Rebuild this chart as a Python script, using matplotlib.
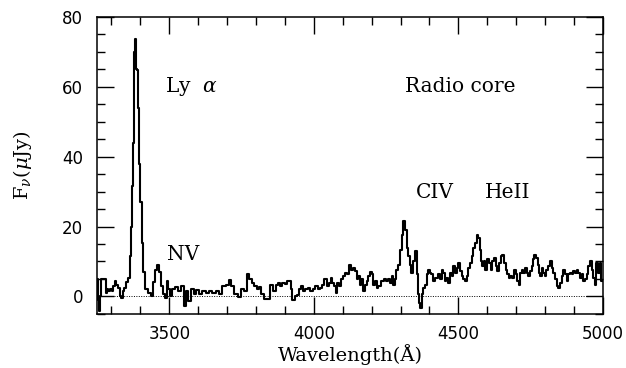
import numpy as np
import matplotlib.pyplot as plt
from matplotlib.ticker import MultipleLocator

# Spectrum (wavelength in Angstrom, flux in microJy)
wave = [3250, 3254, 3258, 3262, 3266, 3272, 3278, 3281, 3286, 3292, 3298, 3303,
        3308, 3314, 3320, 3325, 3331, 3337, 3342, 3348, 3355, 3361, 3367, 3369,
        3372, 3375, 3378, 3381, 3384, 3387, 3389, 3393, 3397, 3402, 3407, 3413,
        3421, 3432, 3439, 3447, 3455, 3462, 3470, 3476, 3482, 3488, 3493, 3499,
        3505, 3516, 3524, 3534, 3545, 3554, 3562, 3568, 3580, 3589, 3597, 3609,
        3620, 3632, 3643, 3655, 3666, 3678, 3689, 3701, 3709, 3718, 3730, 3744,
        3755, 3764, 3773, 3782, 3790, 3799, 3805, 3813, 3822, 3834, 3845, 3854,
        3862, 3874, 3880, 3888, 3895, 3903, 3911, 3918, 3922, 3929, 3938, 3945,
        3952, 3960, 3966, 3976, 3984, 3991, 4001, 4010, 4018, 4026, 4033, 4041,
        4047, 4055, 4061, 4067, 4072, 4079, 4084, 4091, 4099, 4105, 4111, 4118,
        4125, 4131, 4137, 4145, 4151, 4157, 4162, 4168, 4174, 4180, 4185, 4191,
        4197, 4203, 4208, 4214, 4220, 4226, 4237, 4246, 4254, 4260, 4266, 4272,
        4278, 4283, 4289, 4295, 4301, 4306, 4312, 4318, 4324, 4330, 4335, 4341,
        4347, 4353, 4358, 4362, 4366, 4371, 4376, 4381, 4387, 4393, 4399, 4404,
        4410, 4416, 4425, 4433, 4439, 4445, 4451, 4456, 4462, 4468, 4474, 4479,
        4485, 4491, 4497, 4503, 4508, 4514, 4520, 4526, 4531, 4537, 4543, 4549,
        4554, 4560, 4566, 4572, 4575, 4580, 4586, 4591, 4597, 4603, 4609, 4614,
        4620, 4626, 4632, 4637, 4643, 4649, 4655, 4661, 4666, 4672, 4678, 4683,
        4689, 4695, 4701, 4707, 4712, 4718, 4722, 4727, 4733, 4739, 4745, 4751,
        4756, 4762, 4765, 4771, 4777, 4782, 4786, 4791, 4797, 4802, 4808, 4814,
        4820, 4825, 4831, 4837, 4843, 4849, 4854, 4860, 4866, 4872, 4877, 4883,
        4889, 4895, 4900, 4906, 4912, 4918, 4924, 4929, 4935, 4941, 4947, 4952,
        4958, 4964, 4970, 4975, 4981, 4987, 4993, 4997]
flux = [5.0, -1.0, -4.2, 0.0, 5.1, 5.1, 5.1, 1.0, 2.0, 1.5, 2.0, 1.5,
        3.0, 4.4, 3.4, 2.5, 0.0, -0.4, 1.5, 2.5, 4.0, 5.4, 11.5, 20.0,
        31.5, 44.0, 57.0, 70.0, 73.8, 65.0, 64.9, 54.0, 38.0, 27.0, 15.4, 6.9,
        2.0, 1.1, 0.0, 4.0, 7.7, 9.1, 6.9, 3.0, 0.6, -0.4, 4.4, 2.0,
        0.0, 2.0, 2.6, 1.5, 3.0, -2.8, 1.5, -1.3, 2.0, 0.6, 1.8, 0.6,
        1.5, 1.1, 1.5, 0.9, 1.5, 0.6, 3.0, 3.4, 4.6, 3.0, 0.6, -0.3,
        2.0, 1.5, 6.5, 4.9, 3.9, 3.0, 2.0, 2.6, 0.6, -0.6, -0.7, 3.4,
        1.5, 3.4, 3.9, 3.0, 3.9, 3.7, 4.4, 4.4, 2.0, -0.9, 0.0, 0.5,
        2.0, 3.0, 1.5, 2.0, 2.5, 1.5, 2.0, 3.0, 2.0, 2.5, 3.4, 4.9,
        3.0, 3.9, 5.3, 3.9, 3.0, 1.0, 3.9, 3.0, 4.9, 5.8, 6.8, 6.4,
        9.1, 7.7, 8.2, 7.2, 4.9, 5.8, 3.4, 4.9, 1.5, 3.4, 4.4, 5.8,
        7.0, 6.3, 3.4, 4.4, 2.5, 3.0, 4.4, 4.9, 4.4, 4.9, 3.9, 5.8,
        3.4, 5.0, 7.7, 9.1, 13.4, 17.7, 21.5, 19.1, 13.9, 11.5, 9.1, 6.8,
        10.1, 12.9, 6.3, 0.6, -1.8, -3.2, 0.6, 2.5, 3.4, 6.3, 7.7, 6.8,
        6.3, 4.4, 5.3, 6.3, 4.9, 7.7, 6.8, 4.4, 5.3, 3.9, 6.8, 5.8,
        8.7, 6.8, 8.2, 9.6, 7.2, 5.8, 4.9, 4.4, 5.8, 8.2, 9.6, 11.5,
        13.9, 15.3, 17.7, 16.8, 13.4, 10.1, 8.7, 10.1, 7.7, 10.6, 9.6, 7.7,
        10.1, 11.1, 8.7, 7.2, 9.6, 11.5, 12.0, 9.6, 7.7, 6.3, 5.3, 5.8,
        5.3, 7.7, 6.3, 4.4, 3.4, 6.8, 7.7, 6.8, 8.2, 6.8, 5.8, 7.2,
        8.7, 10.6, 12.0, 11.1, 9.1, 6.8, 5.8, 8.2, 6.8, 5.8, 7.7, 8.7,
        10.1, 8.2, 6.8, 4.9, 3.0, 2.5, 3.9, 5.8, 7.7, 6.3, 4.4, 6.3,
        6.8, 6.3, 7.2, 6.8, 7.7, 6.8, 5.3, 6.3, 4.4, 4.9, 6.3, 8.7,
        10.1, 7.7, 5.3, 3.4, 9.6, 6.8, 9.6, 4.4]

# line labels: (text, wavelength, flux)
labels = [("Ly  $\\alpha$", 3575, 60), ("Radio core", 4505, 60),
          ("NV", 3548, 12), ("CIV", 4420, 29.7), ("HeII", 4672, 29.7)]

plt.rcParams['mathtext.fontset'] = 'dejavuserif'
serif = 'DejaVu Serif'

fig = plt.figure(figsize=(6.26, 3.68), dpi=100)
ax = fig.add_axes([0.155, 0.147, 0.808, 0.807])

ax.plot(wave, flux, drawstyle='steps-mid', color='black', lw=1.5)
ax.axhline(0, color='black', lw=0.7, linestyle=(0, (1, 1.5)))

for txt, x, y in labels:
    ax.text(x, y, txt, ha='center', va='center', fontsize=14.5, family=serif)

ax.set_xlim(3250, 5000)
ax.set_ylim(-5, 80)
ax.xaxis.set_major_locator(MultipleLocator(500))
ax.xaxis.set_minor_locator(MultipleLocator(100))
ax.yaxis.set_major_locator(MultipleLocator(20))
ax.yaxis.set_minor_locator(MultipleLocator(5))
ax.tick_params(which='both', direction='in', top=True, right=True, width=1)
ax.tick_params(which='major', length=12, labelsize=12)
ax.tick_params(which='minor', length=6)
ax.tick_params(axis='x', which='major', pad=8)
ax.tick_params(axis='y', which='major', pad=10)
for lab in ax.get_xticklabels() + ax.get_yticklabels():
    lab.set_family('DejaVu Sans')
for sp in ax.spines.values():
    sp.set_linewidth(1.1)

ax.set_xlabel("Wavelength(Å)", fontsize=14, family=serif, labelpad=1)
ax.set_ylabel("F$_\\nu$($\\mu$Jy)", fontsize=14, family=serif, labelpad=20)

fig.savefig("out.png", dpi=100)
